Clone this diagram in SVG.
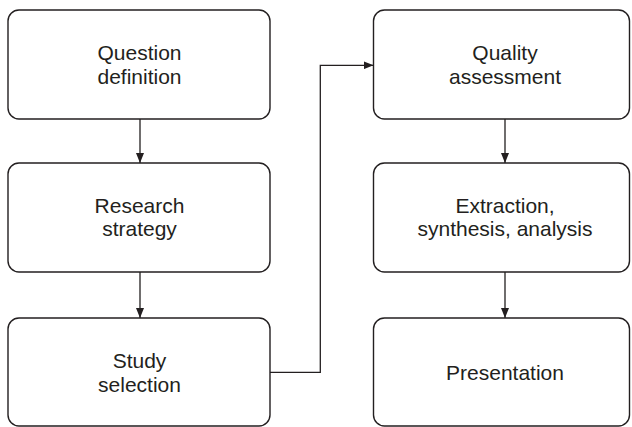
<svg xmlns="http://www.w3.org/2000/svg" width="632" height="427" viewBox="0 0 632 427">
<style>
.box{fill:#fff;stroke:#231f20;stroke-width:1.4}
.lbl{font-family:"Liberation Sans",Arial,sans-serif;font-size:21px;fill:#231f20;text-anchor:middle}
.con{fill:none;stroke:#231f20;stroke-width:1.3}
</style>
<defs>
<marker id="ah" viewBox="0 0 10 8" refX="10" refY="4" markerWidth="10" markerHeight="8" markerUnits="userSpaceOnUse" orient="auto">
<path d="M0,0 L10,4 L0,8 Z" fill="#231f20"/>
</marker>
</defs>
<g id="n1"><rect class="box" x="8" y="10" width="262" height="109" rx="11"/><text class="lbl" x="139.5" y="60">Question</text><text class="lbl" x="139.5" y="83.5">definition</text></g>
<g id="n2"><rect class="box" x="8" y="163" width="262" height="109" rx="11"/><text class="lbl" x="139.5" y="212.5">Research</text><text class="lbl" x="139.5" y="236">strategy</text></g>
<g id="n3"><rect class="box" x="8" y="318" width="262" height="108" rx="11"/><text class="lbl" x="139.5" y="368">Study</text><text class="lbl" x="139.5" y="391.5">selection</text></g>
<g id="n4"><rect class="box" x="373.5" y="10" width="256" height="109" rx="11"/><text class="lbl" x="505" y="60">Quality</text><text class="lbl" x="505" y="83.5">assessment</text></g>
<g id="n5"><rect class="box" x="373.5" y="163" width="256" height="109" rx="11"/><text class="lbl" x="505" y="212.5">Extraction,</text><text class="lbl" x="505" y="236">synthesis, analysis</text></g>
<g id="n6"><rect class="box" x="373.5" y="318" width="256" height="108" rx="11"/><text class="lbl" x="505" y="380">Presentation</text></g>
<g id="connectors">
<path class="con" d="M140,119 V163" marker-end="url(#ah)"/>
<path class="con" d="M140,272 V318" marker-end="url(#ah)"/>
<path class="con" d="M505,119 V163" marker-end="url(#ah)"/>
<path class="con" d="M505,272 V318" marker-end="url(#ah)"/>
<path class="con" d="M270,372.3 H320.3 V65.3 H373.5" marker-end="url(#ah)"/>
</g>
</svg>
